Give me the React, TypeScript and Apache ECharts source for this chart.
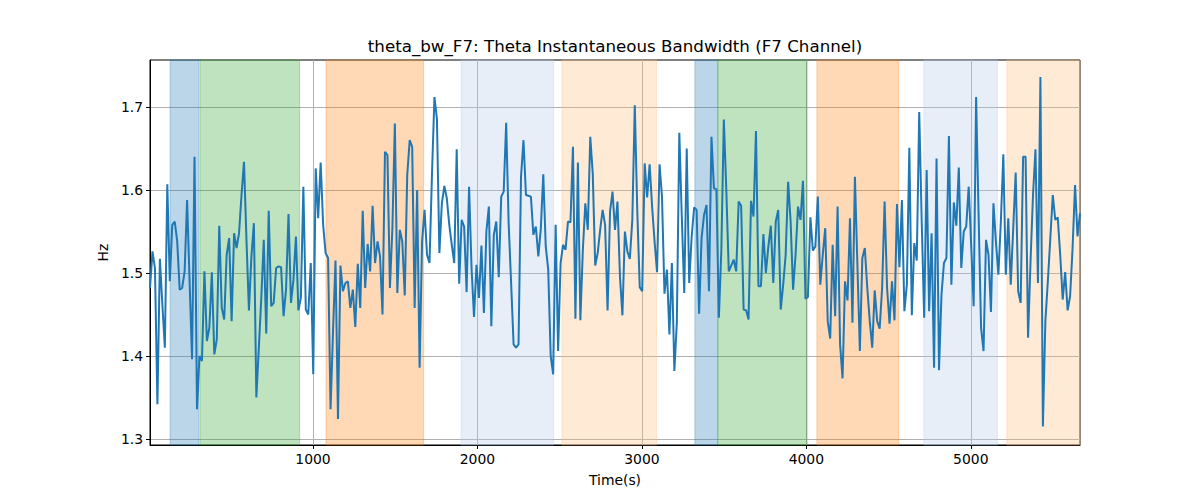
import { useEffect, useRef } from "react";
import * as echarts from "echarts";

// sampling of the bandwidth trace (seconds)
const T0 = 9;
const DT = 15.04;

// theta instantaneous bandwidth, F7 channel (Hz)
const bandwidthHz = [
  1.482, 1.526, 1.506, 1.342, 1.517, 1.462, 1.41, 1.607, 1.49, 1.558, 1.562, 1.538, 1.48, 1.482, 1.502, 1.588,
  1.49, 1.396, 1.64, 1.336, 1.4, 1.394, 1.502, 1.418, 1.434, 1.501, 1.402, 1.42, 1.557, 1.458, 1.444, 1.522,
  1.542, 1.442, 1.548, 1.53, 1.548, 1.594, 1.634, 1.54, 1.455, 1.52, 1.56, 1.35, 1.41, 1.47, 1.54, 1.427,
  1.575, 1.46, 1.464, 1.506, 1.508, 1.507, 1.448, 1.48, 1.571, 1.464, 1.492, 1.544, 1.455, 1.47, 1.604, 1.456,
  1.45, 1.512, 1.378, 1.626, 1.566, 1.633, 1.558, 1.524, 1.518, 1.336, 1.43, 1.515, 1.324, 1.509, 1.478, 1.488,
  1.49, 1.458, 1.48, 1.435, 1.511, 1.458, 1.575, 1.482, 1.535, 1.502, 1.581, 1.512, 1.538, 1.52, 1.45, 1.646,
  1.642, 1.482, 1.554, 1.68, 1.476, 1.552, 1.538, 1.473, 1.618, 1.66, 1.652, 1.458, 1.6, 1.386, 1.538, 1.576,
  1.522, 1.512, 1.618, 1.712, 1.686, 1.524, 1.584, 1.605, 1.59, 1.558, 1.534, 1.512, 1.649, 1.487, 1.564, 1.556,
  1.477, 1.604, 1.506, 1.447, 1.51, 1.47, 1.533, 1.452, 1.55, 1.58, 1.436, 1.546, 1.562, 1.495, 1.592,
  1.598, 1.681, 1.56, 1.488, 1.414, 1.41, 1.414, 1.616, 1.66, 1.594, 1.593, 1.592, 1.546, 1.556, 1.52, 1.553,
  1.619, 1.532, 1.504, 1.4, 1.378, 1.558, 1.406, 1.512, 1.534, 1.528, 1.562, 1.561, 1.652, 1.445, 1.633, 1.443,
  1.528, 1.584, 1.552, 1.664, 1.62, 1.509, 1.524, 1.552, 1.576, 1.558, 1.455, 1.574, 1.598, 1.552, 1.586,
  1.496, 1.449, 1.55, 1.526, 1.517, 1.564, 1.702, 1.576, 1.483, 1.478, 1.632, 1.591, 1.631, 1.58, 1.538, 1.501,
  1.631, 1.592, 1.475, 1.504, 1.426, 1.512, 1.382, 1.44, 1.669, 1.568, 1.476, 1.65, 1.488, 1.544, 1.579, 1.576,
  1.451, 1.542, 1.57, 1.582, 1.478, 1.664, 1.602, 1.601, 1.446, 1.528, 1.685, 1.6, 1.502, 1.509, 1.516, 1.502,
  1.586, 1.581, 1.456, 1.455, 1.444, 1.587, 1.568, 1.671, 1.484, 1.484, 1.547, 1.5, 1.532, 1.557, 1.488, 1.562,
  1.576, 1.456, 1.486, 1.522, 1.61, 1.562, 1.48, 1.522, 1.58, 1.564, 1.611, 1.469, 1.471, 1.567, 1.527, 1.532,
  1.592, 1.486, 1.522, 1.554, 1.442, 1.421, 1.534, 1.448, 1.58, 1.414, 1.373, 1.49, 1.467, 1.566, 1.44,
  1.616, 1.51, 1.406, 1.518, 1.53, 1.482, 1.442, 1.41, 1.479, 1.442, 1.433, 1.482, 1.586, 1.482, 1.439, 1.49,
  1.443, 1.583, 1.507, 1.588, 1.454, 1.486, 1.651, 1.449, 1.536, 1.515, 1.694, 1.562, 1.446, 1.624, 1.454, 1.548,
  1.386, 1.638, 1.383, 1.474, 1.512, 1.518, 1.665, 1.486, 1.585, 1.557, 1.627, 1.506, 1.55, 1.556, 1.604,
  1.534, 1.46, 1.712, 1.57, 1.434, 1.406, 1.54, 1.522, 1.453, 1.584, 1.538, 1.498, 1.562, 1.643, 1.498, 1.566,
  1.486, 1.554, 1.621, 1.478, 1.464, 1.64, 1.64, 1.422, 1.514, 1.594, 1.649, 1.488, 1.736, 1.315, 1.442, 1.49,
  1.542, 1.594, 1.564, 1.567, 1.522, 1.468, 1.501, 1.455, 1.472, 1.53, 1.606, 1.544, 1.572,
];

// shaded state intervals (seconds)
const bandStarts = [131, 313, 1079, 1900, 2514, 3322, 3462, 4064, 4714, 5219];
const bandEnds = [307, 919, 1673, 2463, 3089, 3462, 4005, 4562, 5162, 5665];
const bandKinds = ["blue", "green", "orange", "lightBlue", "lightOrange", "blue", "green", "orange", "lightBlue", "lightOrange"];

const xTicks = [1000, 2000, 3000, 4000, 5000];
const yTicks = [1.3, 1.4, 1.5, 1.6, 1.7];

const bandColors: Record<string, string> = {
  blue: "rgba(31,119,180,0.3)",
  green: "rgba(44,160,44,0.3)",
  orange: "rgba(255,127,14,0.3)",
  lightBlue: "rgba(174,199,232,0.3)",
  lightOrange: "rgba(255,187,120,0.3)",
};

const FONT = "DejaVu Sans";

const App = () => {
  const chartRef = useRef<HTMLDivElement | null>(null);

  useEffect(() => {
    if (!chartRef.current) return;
    const chart = echarts.init(chartRef.current, undefined, { renderer: "svg" });

    const xMax = T0 + DT * (bandwidthHz.length - 1);
    const points = bandwidthHz.map((v, i) => [T0 + i * DT, v]);

    const areas = bandStarts.map((s, i) => {
      const c = bandColors[bandKinds[i]];
      return [
        { xAxis: s, itemStyle: { color: c, borderColor: c, borderWidth: 1 } },
        { xAxis: Math.min(bandEnds[i], xMax) },
      ];
    });

    chart.setOption({
      animation: false,
      backgroundColor: "#fff",
      textStyle: { fontFamily: FONT },
      grid: {
        left: 150,
        right: 120,
        top: 60,
        bottom: 55,
        show: true,
        borderColor: "#000",
        borderWidth: 1,
        backgroundColor: "transparent",
      },
      graphic: [
        {
          type: "text",
          x: 615,
          y: 46,
          style: {
            text: "theta_bw_F7: Theta Instantaneous Bandwidth (F7 Channel)",
            fontFamily: FONT,
            fontSize: 16.7,
            fill: "#000",
            align: "center",
            verticalAlign: "middle",
          },
        },
      ],
      xAxis: {
        type: "value",
        min: T0,
        max: xMax,
        name: "Time(s)",
        nameLocation: "middle",
        nameGap: 28,
        nameTextStyle: { fontFamily: FONT, fontSize: 13.9, color: "#000" },
        axisLine: { show: true, lineStyle: { color: "#000", width: 1 } },
        axisTick: { show: true, length: 4, customValues: xTicks, lineStyle: { color: "#000" } },
        axisLabel: {
          customValues: xTicks,
          margin: 7,
          fontFamily: FONT,
          fontSize: 13.9,
          color: "#000",
          formatter: (v: number) => String(Math.round(v)),
        },
        splitLine: { show: true, lineStyle: { color: "#b0b0b0", width: 1 } },
      },
      yAxis: {
        type: "value",
        min: 1.2928,
        max: 1.7566,
        name: "Hz",
        nameLocation: "middle",
        nameGap: 37,
        nameRotate: 90,
        nameTextStyle: { fontFamily: FONT, fontSize: 13.9, color: "#000" },
        axisLine: { show: true, lineStyle: { color: "#000", width: 1 } },
        axisTick: { show: true, length: 4, customValues: yTicks, lineStyle: { color: "#000" } },
        axisLabel: {
          customValues: yTicks,
          margin: 7,
          fontFamily: FONT,
          fontSize: 13.9,
          color: "#000",
          formatter: (v: number) => v.toFixed(1),
        },
        splitLine: { show: true, lineStyle: { color: "#b0b0b0", width: 1 } },
      },
      series: [
        {
          type: "line",
          data: points,
          showSymbol: false,
          symbol: "none",
          lineStyle: { color: "#1f77b4", width: 2 },
          markArea: { silent: true, data: areas },
          z: 3,
        },
      ],
    });

    return () => chart.dispose();
  }, []);

  return (
    <div
      ref={chartRef}
      style={{ position: "absolute", left: 0, top: 0, width: 1200, height: 500 }}
    />
  );
};

export default App;
